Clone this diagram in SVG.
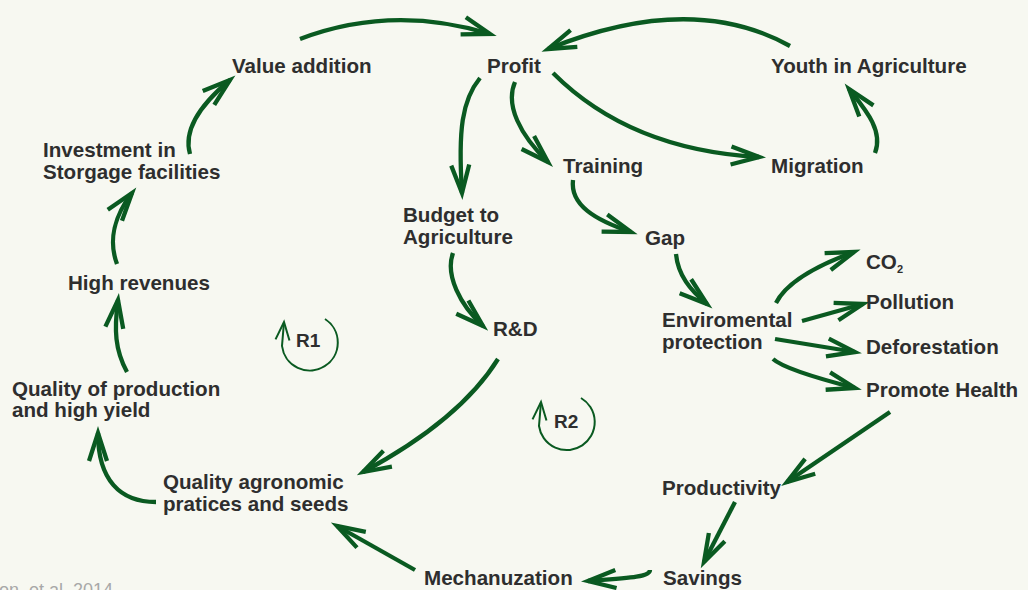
<svg xmlns="http://www.w3.org/2000/svg" width="1028" height="590" viewBox="0 0 1028 590">
<style>
.lbl{font-family:"Liberation Sans",Arial,sans-serif;font-weight:bold;font-size:20.6px;fill:#2e2e2e}
.loop{font-family:"Liberation Sans",Arial,sans-serif;font-weight:bold;font-size:19px;fill:#2e2e2e}
.src{font-family:"Liberation Sans",Arial,sans-serif;font-size:18px;fill:#a8a8a8}
.c{fill:none;stroke:#0a5a21;stroke-width:4.3;stroke-linecap:butt;marker-end:url(#ah)}
.r{fill:none;stroke:#0a5a21;stroke-width:2;marker-end:url(#ahs)}
</style>
<defs>
<marker id="ah" markerUnits="userSpaceOnUse" markerWidth="40" markerHeight="40" refX="0" refY="0" orient="auto" overflow="visible">
<path d="M-28,-9 L0,0 L-28,9" fill="none" stroke="#0a5a21" stroke-width="4.3" stroke-linejoin="miter"/>
</marker>
<marker id="ahs" markerUnits="userSpaceOnUse" markerWidth="30" markerHeight="30" refX="0" refY="0" orient="auto" overflow="visible">
<path d="M-18,-7 L0,0 L-18,7" fill="none" stroke="#0a5a21" stroke-width="2"/>
</marker>
</defs>
<rect width="1028" height="590" fill="#f7f8f1"/>
<g id="connectors">
<path class="c" d="M300,39 Q392,4 490,34"/>
<path class="c" d="M790,46 Q691,-9 548,49"/>
<path class="c" d="M480,78 C462,100 458,130 462,193"/>
<path class="c" d="M515,82 C505,105 520,135 548,162"/>
<path class="c" d="M553,73 Q630,150 759,157"/>
<path class="c" d="M875,153 C884,130 864,108 849,89"/>
<path class="c" d="M573,180 C570,205 595,220 631,232"/>
<path class="c" d="M676,254 C678,275 690,290 707,304"/>
<path class="c" d="M776,303 C785,285 810,268 854,252"/>
<path class="c" d="M802,321 L863,304"/>
<path class="c" d="M775,339 L855,352"/>
<path class="c" d="M773,359 Q785,370 855,388"/>
<path class="c" d="M890,412 L787,482"/>
<path class="c" d="M735,502 L704,562"/>
<path class="c" d="M650,570 C650,577 630,578 588,581"/>
<path class="c" d="M415,570 L337,526"/>
<path class="c" d="M498,359 Q460,420 363,472"/>
<path class="c" d="M156,502 C120,502 98,480 98,433"/>
<path class="c" d="M127,372 C115,350 114,330 118,300"/>
<path class="c" d="M117,264 C108,240 115,215 132,193"/>
<path class="c" d="M190,154 C183,130 200,105 230,80"/>
<path class="c" d="M453,253 C445,275 460,305 483,326"/>
<path class="r" d="M325,319 A28,28 0 1 1 282,346 L284,322"/>
<path class="r" d="M581,398 A28,28 0 1 1 539,426 L541,402"/>
</g>
<g id="n-value"><text class="lbl" x="232" y="73">Value addition</text></g>
<g id="n-profit"><text class="lbl" x="487" y="73">Profit</text></g>
<g id="n-youth"><text class="lbl" x="771" y="73">Youth in Agriculture</text></g>
<g id="n-investment"><text class="lbl" x="43" y="157">Investment in</text><text class="lbl" x="43" y="179">Storgage facilities</text></g>
<g id="n-training"><text class="lbl" x="563" y="173">Training</text></g>
<g id="n-migration"><text class="lbl" x="771" y="173">Migration</text></g>
<g id="n-budget"><text class="lbl" x="403" y="222">Budget to</text><text class="lbl" x="403" y="244">Agriculture</text></g>
<g id="n-gap"><text class="lbl" x="645" y="245">Gap</text></g>
<g id="n-high"><text class="lbl" x="68" y="290">High revenues</text></g>
<g id="n-co2"><text class="lbl" x="866" y="269">CO<tspan font-size="11" dy="4">2</tspan></text></g>
<g id="n-pollution"><text class="lbl" x="866" y="309">Pollution</text></g>
<g id="n-env"><text class="lbl" x="662" y="327">Enviromental</text><text class="lbl" x="662" y="349">protection</text></g>
<g id="n-rd"><text class="lbl" x="493" y="336">R&amp;D</text></g>
<g id="n-defor"><text class="lbl" x="866" y="354">Deforestation</text></g>
<g id="n-health"><text class="lbl" x="866" y="397">Promote Health</text></g>
<g id="n-r1"><text class="loop" x="296" y="347">R1</text></g>
<g id="n-r2"><text class="loop" x="554" y="428">R2</text></g>
<g id="n-qprod"><text class="lbl" x="12" y="396">Quality of production</text><text class="lbl" x="12" y="417">and high yield</text></g>
<g id="n-qagro"><text class="lbl" x="163" y="489">Quality agronomic</text><text class="lbl" x="163" y="511">pratices and seeds</text></g>
<g id="n-productivity"><text class="lbl" x="662" y="495">Productivity</text></g>
<g id="n-mech"><text class="lbl" x="424" y="585">Mechanuzation</text></g>
<g id="n-savings"><text class="lbl" x="663" y="585">Savings</text></g>
<text class="src" x="-1" y="596">on, et al. 2014</text>
</svg>
